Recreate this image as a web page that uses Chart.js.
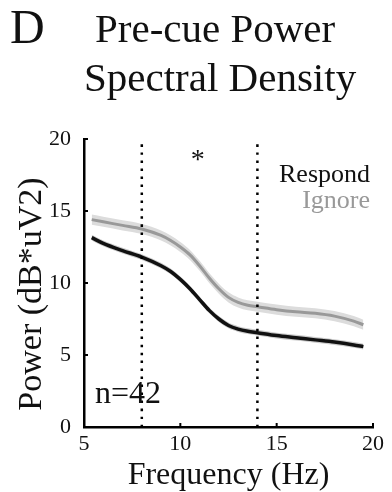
<!DOCTYPE html>
<html>
<head>
<meta charset="utf-8">
<script src="https://cdn.jsdelivr.net/npm/chart.js@4.4.1/dist/chart.umd.min.js"></script>
<style>
  html, body { margin: 0; padding: 0; background: #fff; }
</style>
</head>
<body>
<canvas id="psd" width="392" height="492"></canvas>
<script>
// values
const freqs      = [5.4, 6, 7, 8, 9, 9.5, 10, 10.5, 11, 11.5, 12, 12.5, 13, 13.5, 14, 15, 16, 17, 18, 19, 19.5];
const respond    = [13.15, 12.75, 12.25, 11.8, 11.2, 10.8, 10.25, 9.6, 8.85, 8.1, 7.5, 7.05, 6.8, 6.65, 6.55, 6.35, 6.2, 6.05, 5.9, 5.7, 5.58];
const ignore     = [14.4, 14.25, 14.0, 13.75, 13.3, 12.95, 12.5, 11.95, 11.2, 10.35, 9.6, 9.0, 8.65, 8.45, 8.35, 8.15, 8.0, 7.9, 7.7, 7.35, 7.1];
const respondSem = [0.2, 0.2, 0.2, 0.2, 0.2, 0.2, 0.2, 0.2, 0.2, 0.2, 0.2, 0.2, 0.2, 0.2, 0.2, 0.2, 0.2, 0.2, 0.2, 0.2, 0.2];
const ignoreSem  = [0.35, 0.35, 0.35, 0.35, 0.35, 0.35, 0.35, 0.35, 0.35, 0.35, 0.35, 0.35, 0.35, 0.35, 0.35, 0.35, 0.35, 0.35, 0.35, 0.35, 0.35];
const markerFreqs = [8, 14];   // dotted band edges
const yRange = [0, 20];
const seriesNames = ['Respond', 'Ignore'];

const SERIF = '"Liberation Serif", "Times New Roman", serif';

const pts = (ys) => freqs.map((f, i) => ({ x: f, y: ys[i] }));
const shift = (ys, sem, sign) => ys.map((v, i) => v + sign * sem[i]);

const lineBase = { pointRadius: 0, cubicInterpolationMode: 'monotone', fill: false };

const datasets = [
  // ignore band + line
  { ...lineBase, data: pts(shift(ignore, ignoreSem, 1)), borderWidth: 0, backgroundColor: '#dcdcdc', fill: '+1', order: 6 },
  { ...lineBase, data: pts(shift(ignore, ignoreSem, -1)), borderWidth: 0, order: 6 },
  { ...lineBase, data: pts(ignore), borderColor: '#999', borderWidth: 3, order: 5 },
  // respond band + line
  { ...lineBase, data: pts(shift(respond, respondSem, 1)), borderWidth: 0, backgroundColor: 'rgba(140,140,140,0.45)', fill: '+1', order: 4 },
  { ...lineBase, data: pts(shift(respond, respondSem, -1)), borderWidth: 0, order: 4 },
  { ...lineBase, data: pts(respond), borderColor: '#111', borderWidth: 3.5, order: 3 },
];
markerFreqs.forEach(f => {
  datasets.push({
    ...lineBase,
    data: [{ x: f, y: yRange[0] }, { x: f, y: yRange[1] }],
    borderColor: '#000', borderWidth: 2.5, borderDash: [2.5, 5.5], order: 1,
  });
});

// text, inward ticks
const decor = {
  id: 'decor',
  afterDraw(chart) {
    const ctx = chart.ctx;
    const { x, y } = chart.scales;
    ctx.save();
    ctx.strokeStyle = '#000';
    ctx.lineWidth = 2;
    x.ticks.forEach(t => {
      const px = x.getPixelForValue(t.value);
      ctx.beginPath(); ctx.moveTo(px, y.bottom); ctx.lineTo(px, y.bottom - 4); ctx.stroke();
    });
    y.ticks.forEach(t => {
      const py = y.getPixelForValue(t.value);
      ctx.beginPath(); ctx.moveTo(x.left, py); ctx.lineTo(x.left + 4, py); ctx.stroke();
    });

    ctx.fillStyle = '#111';
    ctx.textBaseline = 'alphabetic';
    ctx.textAlign = 'left';
    ctx.font = '48px ' + SERIF;
    ctx.fillText('D', 10, 43);
    ctx.font = '41px ' + SERIF;
    ctx.fillText('Pre-cue Power', 95, 42);
    ctx.fillText('Spectral Density', 84, 91);

    // legend
    ctx.font = '26px ' + SERIF;
    ctx.textAlign = 'right';
    ctx.fillStyle = '#111';
    ctx.fillText(seriesNames[0], 370, 182);
    ctx.fillStyle = '#999';
    ctx.fillText(seriesNames[1], 370, 208);

    // significance star
    ctx.fillStyle = '#111';
    ctx.textAlign = 'center';
    ctx.font = '28px ' + SERIF;
    ctx.fillText('*', x.getPixelForValue(10.9), y.getPixelForValue(18.0));

    ctx.textAlign = 'left';
    ctx.font = '32px ' + SERIF;
    ctx.fillText('n=42', 95, 403);

    // axis titles
    ctx.textAlign = 'center';
    ctx.font = '32px ' + SERIF;
    ctx.fillText('Frequency (Hz)', (x.left + x.right) / 2, 484);
    ctx.save();
    ctx.translate(41, 294);
    ctx.rotate(-Math.PI / 2);
    ctx.font = '34px ' + SERIF;
    ctx.fillText('Power (dB*uV2)', 0, 0);
    ctx.restore();
    ctx.restore();
  }
};

new Chart(document.getElementById('psd'), {
  type: 'line',
  data: { datasets },
  plugins: [decor],
  options: {
    responsive: false,
    animation: false,
    layout: { padding: { top: 139, right: 19, left: 0, bottom: 0 } },
    plugins: { legend: { display: false }, tooltip: { enabled: false } },
    scales: {
      x: {
        type: 'linear', min: 5, max: 20,
        ticks: { stepSize: 5, color: '#111', padding: -4, font: { family: SERIF, size: 22 } },
        grid: { display: false },
        border: { display: true, color: '#000', width: 2.5 },
        afterFit: s => { s.height = 65; },
      },
      y: {
        min: yRange[0], max: yRange[1],
        ticks: { stepSize: 5, color: '#111', padding: 5, font: { family: SERIF, size: 22 } },
        grid: { display: false },
        border: { display: true, color: '#000', width: 2.5 },
        afterFit: s => { s.width = 84; },
      },
    },
  },
});
</script>
</body>
</html>
